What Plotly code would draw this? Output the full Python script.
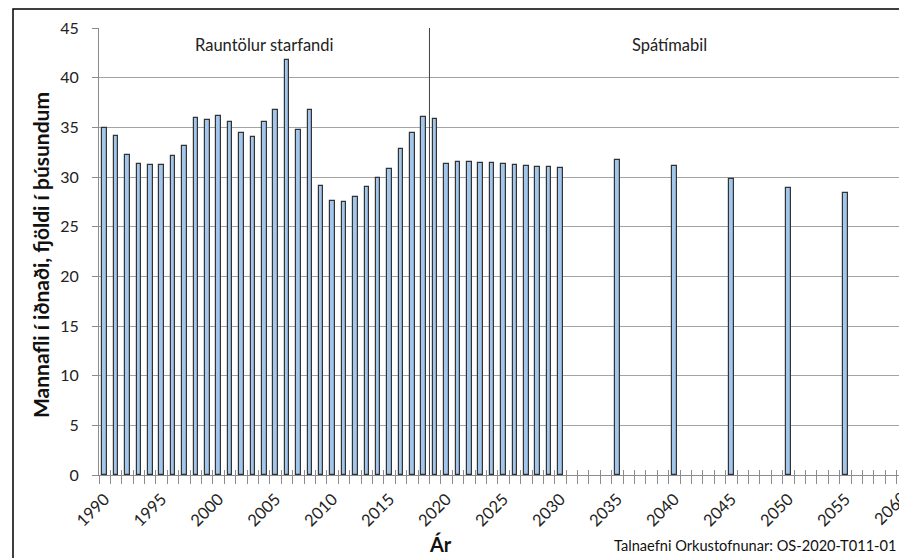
import plotly.graph_objects as go

# Workforce in manufacturing (thousands): actual figures 1990-2018, projection afterwards
years = list(range(1990, 2031)) + [2035, 2040, 2045, 2050, 2055]
workforce = [
    34.9, 34.1, 32.2, 31.3, 31.2, 31.2, 32.1, 33.1, 35.9, 35.7,
    36.1, 35.5, 34.4, 34.0, 35.5, 36.7, 41.8, 34.7, 36.7, 29.1,
    27.6, 27.5, 28.0, 29.0, 29.9, 30.8, 32.8, 34.4, 36.0, 35.8,
    31.3, 31.5, 31.5, 31.4, 31.4, 31.3, 31.2, 31.1, 31.0, 31.0,
    30.9,
    31.7, 31.1, 29.8, 28.9, 28.4,
]
label_years = list(range(1990, 2061, 5))
split_year = 2018.5          # boundary between actuals and projection
y_ticks = list(range(0, 46, 5))

W, H = 899, 558
ML, MR, MT, MB = 99, 0, 28, 83
px_per_year = 11.395
x0 = 1989.5
x1 = x0 + (W - ML - MR) / px_per_year
boundaries = [x0 + i for i in range(0, 72)]

FONT = "Lato, Carlito, Calibri, sans-serif"
GRID = "#a3a3a3"
AXIS = "#8c8c8c"
TXT = "#222222"


def px_to_paper_x(px):
    return (px - ML) / (W - ML - MR)


def px_to_paper_y(py):
    return (H - MB - py) / (H - MT - MB)


fig = go.Figure()

fig.add_trace(go.Bar(
    x=years, y=workforce, width=0.4,
    marker=dict(color="#a2c6ec", line=dict(color="#333333", width=1.2)),
    showlegend=False, hoverinfo="x+y",
))

# helper traces so the overlay axes (tick marks only) get drawn
for ax in ("x2", "x3"):
    fig.add_trace(go.Scatter(x=[None], y=[None], xaxis=ax, yaxis="y",
                             showlegend=False, hoverinfo="skip"))

# separator between actual figures and projection period
fig.add_shape(type="line", x0=split_year, x1=split_year, y0=0, y1=45,
              xref="x", yref="y", line=dict(color="#404040", width=1))

# outer chart border (left and top sides)
fig.add_shape(type="rect", xref="paper", yref="paper",
              x0=px_to_paper_x(13), x1=px_to_paper_x(W + 20),
              y0=px_to_paper_y(H + 20), y1=px_to_paper_y(9),
              line=dict(color="#000000", width=1.5), layer="above")

fig.update_layout(
    width=W, height=H,
    margin=dict(l=ML, r=MR, t=MT, b=MB, pad=0),
    paper_bgcolor="white", plot_bgcolor="white",
    font=dict(family=FONT, size=14, color=TXT),
    bargap=0,
    xaxis=dict(
        range=[x0, x1], tickmode="array", tickvals=label_years,
        ticktext=[str(y) for y in label_years], tickangle=-45,
        ticks="", showgrid=False, zeroline=False,
        showline=True, linecolor=AXIS, linewidth=1,
        tickfont=dict(family=FONT, size=16.5, color=TXT),
        ticklabelstandoff=7,
    ),
    xaxis2=dict(
        range=[x0, x1], overlaying="x", anchor="y", side="bottom",
        tickmode="array", tickvals=boundaries, ticks="outside",
        ticklen=8, tickcolor=AXIS, showticklabels=False,
        showgrid=False, zeroline=False, showline=False,
    ),
    xaxis3=dict(
        range=[x0, x1], overlaying="x", anchor="y", side="bottom",
        tickmode="array", tickvals=boundaries, ticks="inside",
        ticklen=5, tickcolor=AXIS, showticklabels=False,
        showgrid=False, zeroline=False, showline=False,
    ),
    yaxis=dict(
        range=[0, 45], tickmode="array", tickvals=y_ticks,
        ticks="outside", ticklen=6, tickcolor=AXIS,
        showgrid=True, gridcolor=GRID, gridwidth=1,
        showline=True, linecolor=AXIS, linewidth=1, zeroline=False,
        tickfont=dict(family=FONT, size=16, color=TXT),
        ticklabelstandoff=10,
    ),
)

annotations = [
    dict(text="Rauntölur starfandi", x=2004, y=43.3, xref="x", yref="y",
         showarrow=False, font=dict(family=FONT, size=16.5, color=TXT)),
    dict(text="Spátímabil", x=2039.6, y=43.3, xref="x", yref="y",
         showarrow=False, font=dict(family=FONT, size=16.5, color=TXT)),
    dict(text="<b>Mannafli í iðnaði, fjöldi í þúsundum</b>",
         x=px_to_paper_x(40), y=px_to_paper_y(255), xref="paper", yref="paper",
         textangle=-90, showarrow=False, xanchor="center", yanchor="middle",
         font=dict(family=FONT, size=21, color="#111111")),
    dict(text="<b>Ár</b>", x=px_to_paper_x(440), y=px_to_paper_y(544),
         xref="paper", yref="paper", showarrow=False,
         xanchor="center", yanchor="middle",
         font=dict(family=FONT, size=20, color="#111111")),
    dict(text="Talnaefni Orkustofnunar: OS-2020-T011-01",
         x=px_to_paper_x(898), y=px_to_paper_y(545),
         xref="paper", yref="paper", showarrow=False,
         xanchor="right", yanchor="middle",
         font=dict(family=FONT, size=14.6, color="#111111")),
    # last year label sits past the right edge of the plotting area
    dict(text="2060", x=(2060 - x0) / (x1 - x0), y=0, xref="paper", yref="paper",
         textangle=-45, showarrow=False, xanchor="right", yanchor="top",
         yshift=-9, xshift=12,
         font=dict(family=FONT, size=16.5, color=TXT)),
]
fig.update_layout(annotations=annotations)

fig.write_html("out.html")
